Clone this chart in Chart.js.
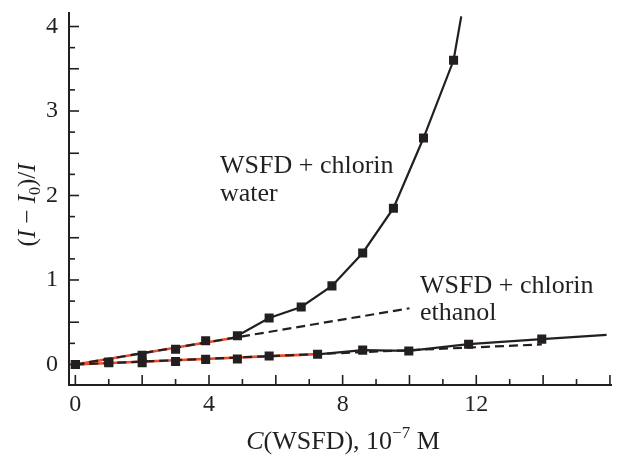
<!DOCTYPE html>
<html><head><meta charset="utf-8">
<script src="https://cdn.jsdelivr.net/npm/chart.js@4.4.0/dist/chart.umd.min.js"></script>
<style>html,body{margin:0;padding:0;background:#fff;}#wrap{width:618px;height:456px;}</style>
</head><body><div id="wrap"><canvas id="c" width="618" height="456"></canvas></div>
<script>
// ---- data ----
const waterX = [0, 1, 2, 3, 3.9, 4.85, 5.8, 6.76, 7.68, 8.6, 9.52, 10.42, 11.32];
const waterY = [0, 0.03, 0.11, 0.18, 0.28, 0.34, 0.55, 0.68, 0.93, 1.32, 1.85, 2.68, 3.6];
const waterTailX = [11.55];
const waterTailY = [4.12];
const waterSolidFrom = 5;

const ethanolX = [0, 1, 2, 3, 3.9, 4.85, 5.8, 7.25, 8.6, 9.98, 11.77, 13.96];
const ethanolY = [0, 0.02, 0.02, 0.035, 0.06, 0.065, 0.10, 0.12, 0.17, 0.16, 0.24, 0.30];
const ethanolTailX = [15.9];
const ethanolTailY = [0.35];
const ethanolSolidFrom = 7;

const waterFitX = [0, 10];
const waterFitY = [0, 0.665];
const waterRedX = [0, 4.85];
const waterRedY = [0, 0.322];
const ethanolFitX = [0, 13.96];
const ethanolFitY = [0, 0.237];
const ethanolRedX = [0, 7.25];
const ethanolRedY = [0, 0.123];

const xTickLabels = [0, 4, 8, 12];
const yTickLabels = [0, 1, 2, 3, 4];
const waterLabel = ['WSFD + chlorin', 'water'];
const ethanolLabel = ['WSFD + chlorin', 'ethanol'];

// ---- styling ----
const INK = '#231f20';
const RED = '#e8502b';
const SERIF = "'Liberation Serif', 'Times New Roman', serif";

const pts = (xs, ys) => xs.map((x, i) => ({x, y: ys[i]}));

const waterSolid = pts(waterX.slice(waterSolidFrom).concat(waterTailX), waterY.slice(waterSolidFrom).concat(waterTailY));
const ethanolSolid = pts(ethanolX.slice(ethanolSolidFrom).concat(ethanolTailX), ethanolY.slice(ethanolSolidFrom).concat(ethanolTailY));

const lineDs = (data, color, width, dash, order) => ({
  type: 'line', data, showLine: true, borderColor: color, borderWidth: width,
  borderDash: dash, pointRadius: 0, fill: false, tension: 0, order
});
const markerDs = (data) => ({
  type: 'scatter', data, showLine: false, pointStyle: 'rect', pointRadius: 6.4,
  backgroundColor: INK, borderColor: INK, borderWidth: 0, pointBorderWidth: 0, order: 0
});

const inwardTicks = {
  id: 'inwardTicks',
  beforeDatasetsDraw(chart) {
    const ctx = chart.ctx, xs = chart.scales.x, ys = chart.scales.y;
    ctx.save();
    ctx.strokeStyle = INK; ctx.lineWidth = 1.6;
    xs.ticks.forEach(t => {
      const px = xs.getPixelForValue(t.value);
      const len = Math.abs(t.value % 2) < 1e-6 ? 10 : 6;
      ctx.beginPath(); ctx.moveTo(px, xs.top); ctx.lineTo(px, xs.top - len); ctx.stroke();
    });
    ys.ticks.forEach(t => {
      const py = ys.getPixelForValue(t.value);
      const len = Math.abs((t.value * 2) % 1) < 1e-6 ? 10 : 6;
      ctx.beginPath(); ctx.moveTo(ys.right, py); ctx.lineTo(ys.right + len, py); ctx.stroke();
    });
    ctx.restore();
  }
};

function drawRuns(ctx, runs, x, y, align) {
  let total = 0;
  runs.forEach(r => { ctx.font = `${r[1]} ${r[2]}px ${SERIF}`; total += ctx.measureText(r[0]).width; });
  let cx = align === 'center' ? x - total / 2 : x;
  runs.forEach(r => {
    ctx.font = `${r[1]} ${r[2]}px ${SERIF}`;
    ctx.fillText(r[0], cx, y + r[3]);
    cx += ctx.measureText(r[0]).width;
  });
}

const textPlugin = {
  id: 'texts',
  afterDraw(chart) {
    const ctx = chart.ctx;
    ctx.save();
    ctx.fillStyle = INK; ctx.textAlign = 'left'; ctx.textBaseline = 'alphabetic';
    drawRuns(ctx, [['C', 'italic', 26, 0], ['(WSFD), 10', 'normal', 26, 0], ['\u22127', 'normal', 17, -11], [' M', 'normal', 26, 0]], 343, 449, 'center');
    ctx.translate(35, 205); ctx.rotate(-Math.PI / 2);
    drawRuns(ctx, [['(', 'normal', 25, 0], ['I', 'italic', 25, 0], [' \u2212 ', 'normal', 25, 0], ['I', 'italic', 25, 0], ['0', 'normal', 16, 5], [')/', 'normal', 25, 0], ['I', 'italic', 25, 0]], 0, 0, 'center');
    ctx.setTransform(1, 0, 0, 1, 0, 0);
    ctx.font = `26px ${SERIF}`;
    ctx.fillText(waterLabel[0], 220, 173);
    ctx.fillText(waterLabel[1], 220, 201);
    ctx.fillText(ethanolLabel[0], 420, 293);
    ctx.fillText(ethanolLabel[1], 420, 320);
    ctx.restore();
  }
};

Chart.defaults.font.family = SERIF;
Chart.defaults.color = INK;

new Chart(document.getElementById('c'), {
  type: 'scatter',
  data: {
    datasets: [
      markerDs(pts(waterX, waterY)),
      markerDs(pts(ethanolX, ethanolY)),
      lineDs(waterSolid, INK, 2.2, [], 1),
      lineDs(ethanolSolid, INK, 2.2, [], 1),
      lineDs(pts(waterFitX, waterFitY), INK, 2.2, [9, 5], 2),
      lineDs(pts(ethanolFitX, ethanolFitY), INK, 2.2, [9, 5], 2),
      lineDs(pts(waterRedX, waterRedY), RED, 2.6, [], 3),
      lineDs(pts(ethanolRedX, ethanolRedY), RED, 2.6, [], 3)
    ]
  },
  options: {
    responsive: false, animation: false, devicePixelRatio: 1,
    layout: {padding: {top: 13, right: 0, left: 0, bottom: 0}},
    plugins: {legend: {display: false}, tooltip: {enabled: false}},
    scales: {
      x: {
        type: 'linear', min: -0.19, max: 16.05,
        grid: {display: false, drawTicks: false, tickLength: 0},
        border: {display: true, color: INK, width: 2},
        ticks: {
          stepSize: 1, includeBounds: false, padding: 5, maxRotation: 0, autoSkip: false,
          font: {size: 24, family: SERIF}, color: INK,
          callback: v => xTickLabels.includes(v) ? String(v) : ''
        },
        afterFit: s => { s.height = 71; s.paddingLeft = 0; s.paddingRight = 0; }
      },
      y: {
        type: 'linear', min: -0.243, max: 4.16,
        grid: {display: false, drawTicks: false, tickLength: 0},
        border: {display: true, color: INK, width: 2},
        ticks: {
          stepSize: 0.25, includeBounds: false, padding: 11, autoSkip: false,
          font: {size: 24, family: SERIF}, color: INK,
          callback: v => yTickLabels.includes(v) ? String(v) : ''
        },
        afterFit: s => { s.width = 69; s.paddingTop = 0; s.paddingBottom = 0; }
      }
    }
  },
  plugins: [inwardTicks, textPlugin]
});
</script></body></html>
